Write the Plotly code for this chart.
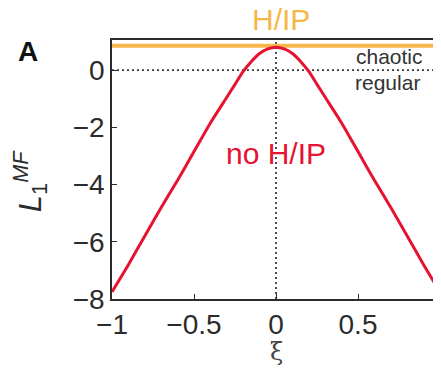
import plotly.graph_objects as go

# ---- data ----
xi = [-1.0, -0.9, -0.8, -0.7, -0.6, -0.5, -0.4, -0.3, -0.25, -0.2, -0.15, -0.1, -0.05, 0.0,
      0.05, 0.1, 0.15, 0.2, 0.25, 0.3, 0.4, 0.5, 0.6, 0.7, 0.8, 0.9, 1.0]
L1_mf = [-7.75, -6.8, -5.8, -4.8, -3.85, -2.85, -1.85, -0.95, -0.5, -0.05, 0.3, 0.58, 0.74, 0.8,
         0.74, 0.58, 0.3, -0.05, -0.5, -0.95, -1.85, -2.85, -3.85, -4.8, -5.8, -6.8, -7.75]
hip_x = [-1.0, 1.0]
hip_y = [0.85, 0.85]
zero_x = [-1.0, 1.0]
zero_y = [0.0, 0.0]
vert_x = [0.0, 0.0]
vert_y = [-8.0, 1.05]

x_ticks = [-1, -0.5, 0, 0.5, 1]
x_ticktext = ["\u22121", "\u22120.5", "0", "0.5", "1"]
y_ticks = [-8, -6, -4, -2, 0]
y_ticktext = ["\u22128", "\u22126", "\u22124", "\u22122", "0"]

RED = "#e6122f"
ORANGE = "#f8b54a"
DARK = "#2b2b2b"
FONT = "Liberation Sans, Arial, sans-serif"

fig = go.Figure()
fig.add_trace(go.Scatter(x=zero_x, y=zero_y, mode="lines",
                         line=dict(color="#3a3a3a", width=1.8, dash="2px,3px"), hoverinfo="skip"))
fig.add_trace(go.Scatter(x=vert_x, y=vert_y, mode="lines",
                         line=dict(color="#3a3a3a", width=1.8, dash="2px,3px"), hoverinfo="skip"))
fig.add_trace(go.Scatter(x=hip_x, y=hip_y, mode="lines",
                         line=dict(color=ORANGE, width=4), hoverinfo="skip"))
fig.add_trace(go.Scatter(x=xi, y=L1_mf, mode="lines",
                         line=dict(color=RED, width=3, shape="spline", smoothing=0.6), hoverinfo="skip"))

# the page body has an 8px margin, so the figure is sized to fit inside it
fig.update_layout(
    width=433, height=362,
    margin=dict(l=104, r=1, t=32, b=71, autoexpand=False),
    paper_bgcolor="white", plot_bgcolor="white",
    showlegend=False,
    font=dict(family=FONT, color=DARK, size=27),
    xaxis=dict(range=[-1, 1], tickvals=x_ticks, ticktext=x_ticktext, automargin=False,
               ticklabeloverflow="allow",
               showgrid=False, zeroline=False, showline=True, mirror=True,
               linecolor=DARK, linewidth=1.6, ticks="inside", ticklen=5,
               tickcolor=DARK, tickwidth=1.2, tickfont=dict(size=28, family=FONT, color=DARK)),
    yaxis=dict(range=[-8, 1.05], tickvals=y_ticks, ticktext=y_ticktext, automargin=False,
               ticklabeloverflow="allow",
               showgrid=False, zeroline=False, showline=True, mirror=True,
               linecolor=DARK, linewidth=1.6, ticks="inside", ticklen=5,
               tickcolor=DARK, tickwidth=1.2, tickfont=dict(size=28, family=FONT, color=DARK)),
)

ann = [
    dict(text="H/IP", x=0.03, xref="x", y=1.078, yref="paper", yanchor="middle",
         font=dict(size=30, color=ORANGE, family=FONT)),
    dict(text="no H/IP", x=0.0, xref="x", y=-2.93, yref="y", yanchor="middle",
         font=dict(size=30, color=RED, family=FONT)),
    dict(text="chaotic", x=0.69, xref="x", y=0.47, yref="y", yanchor="middle",
         font=dict(size=21, color="#333", family=FONT)),
    dict(text="regular", x=0.68, xref="x", y=-0.42, yref="y", yanchor="middle",
         font=dict(size=21, color="#333", family=FONT)),
    dict(text="<b>A</b>", x=-0.255, xref="paper", y=0.954, yref="paper", yanchor="middle",
         font=dict(size=28, color="#111", family=FONT)),
    dict(text="<i>L</i><sub>1</sub><sup><i>MF</i></sup>", x=-0.25, xref="paper", y=0.455,
         yref="paper", textangle=-90, yanchor="middle",
         font=dict(size=31, color=DARK, family=FONT)),
    dict(text="\u03be", x=0.0, xref="x", y=-0.205, yref="paper", yanchor="middle",
         font=dict(size=24, color="#444", family="DejaVu Serif, serif")),
]
for a in ann:
    a["showarrow"] = False
    a["xanchor"] = "center"
    a["borderpad"] = 0
fig.update_layout(annotations=ann)

fig.write_html("out.html")
